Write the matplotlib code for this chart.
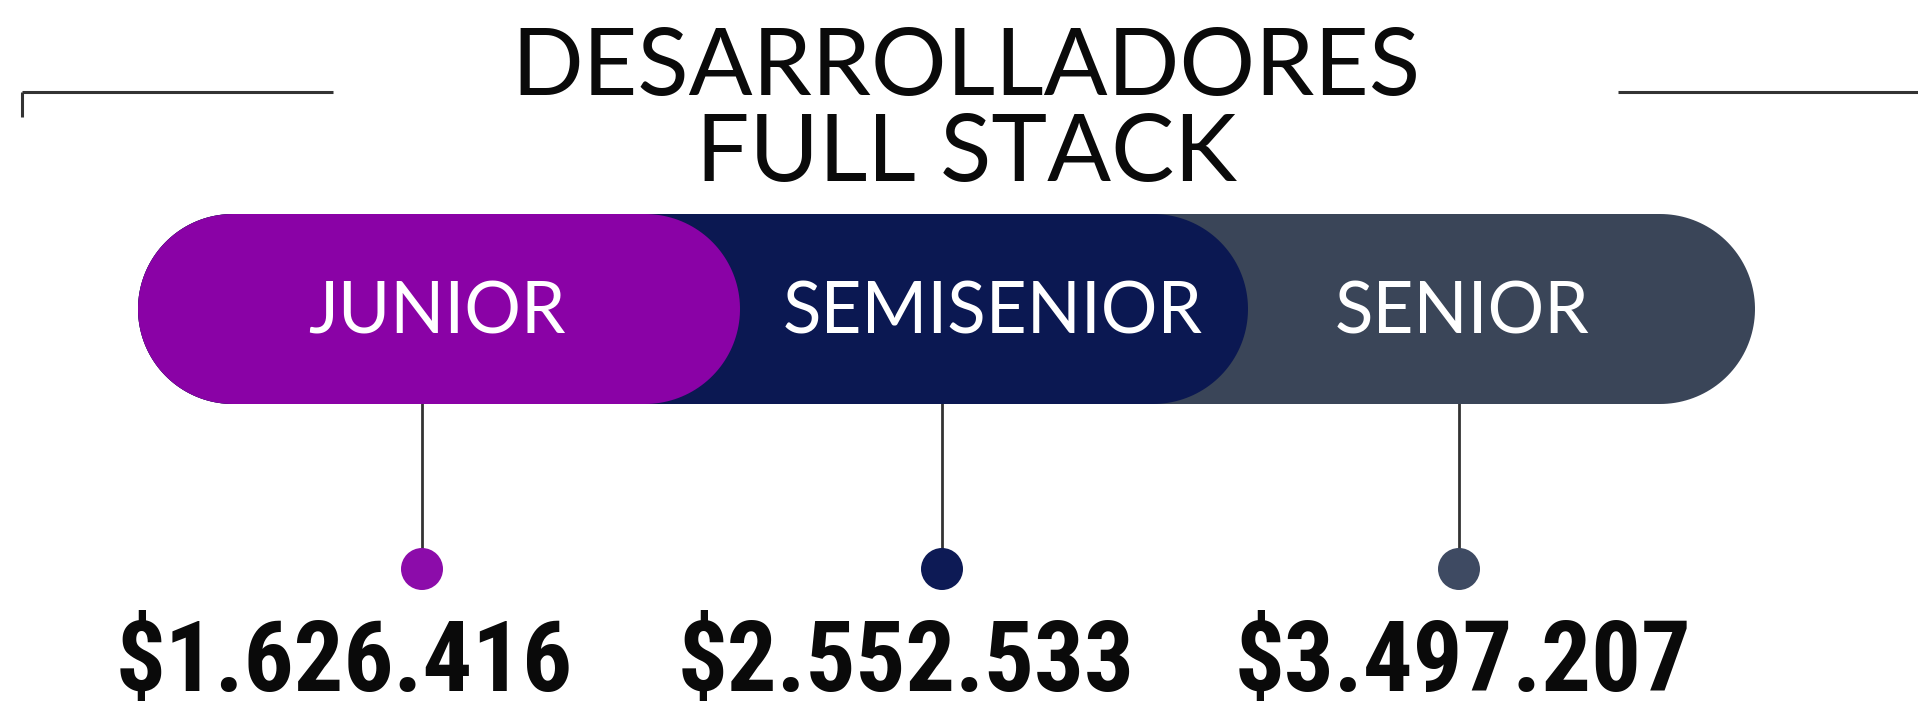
import matplotlib
matplotlib.use("Agg")
import numpy as np
import matplotlib.pyplot as plt
from matplotlib.patches import Polygon, Circle
from matplotlib import font_manager

# ---- data ----
title_lines = ["DESARROLLADORES", "FULL STACK"]
categories = ["JUNIOR", "SEMISENIOR", "SENIOR"]
salaries = [1626416, 2552533, 3497207]
colors = ["#8A02A6", "#0B1852", "#3A4558"]
dot_colors = ["#8C0CAA", "#0D1A55", "#3E4A62"]

def fmt(v):
    return "$" + f"{v:,}".replace(",", ".")

# ---- layout (pixels) ----
W, H = 1918, 710
fig = plt.figure(figsize=(W / 100, H / 100), dpi=100)
ax = fig.add_axes([0, 0, 1, 1])
ax.set_xlim(0, W)
ax.set_ylim(H, 0)
ax.axis("off")

names = {f.name for f in font_manager.fontManager.ttflist}
value_font = "Liberation Sans"
for cand in ["Liberation Sans Narrow", "Roboto Condensed", "Open Sans Condensed"]:
    if cand in names:
        value_font = cand
        break
value_size = 71 if value_font != "Liberation Sans" else 67
title_font = "Lato"

# decorative lines
ax.plot([22, 333], [92, 92], color="#333333", lw=2.2, solid_capstyle="butt")
ax.plot([22, 22], [92, 117], color="#333333", lw=2.2, solid_capstyle="butt")
ax.plot([1618, 1918], [92, 92], color="#333333", lw=2.2, solid_capstyle="butt")

# title
title_base = [95, 181]
for t, yb in zip(title_lines, title_base):
    ax.text(966, yb, t, ha="center", va="baseline", fontsize=68,
            family=title_font, color="#0A0A0A")

# pill bar
bar_left, bar_top, bar_bot = 138, 214, 404
seg_right = [740, 1248, 1755]
r = (bar_bot - bar_top) / 2
yc = (bar_top + bar_bot) / 2

def pill(x0, x1):
    a1 = np.linspace(-np.pi / 2, np.pi / 2, 80)
    a2 = np.linspace(np.pi / 2, 3 * np.pi / 2, 80)
    right = np.column_stack([x1 - r + r * np.cos(a1), yc + r * np.sin(a1)])
    left = np.column_stack([x0 + r + r * np.cos(a2), yc + r * np.sin(a2)])
    return np.vstack([right, left])

for i in reversed(range(len(categories))):
    ax.add_patch(Polygon(pill(bar_left, seg_right[i]), closed=True,
                         fc=colors[i], ec="none", zorder=2 + (len(categories) - i)))

label_x = [437, 993, 1462]
for i, c in enumerate(categories):
    ax.text(label_x[i], 333, c, ha="center", va="baseline", fontsize=51,
            family=title_font, color="white", zorder=10)

# stems + dots + values
stem_x = [422, 942, 1459]
value_x = [344, 906, 1463]
for i, v in enumerate(salaries):
    ax.plot([stem_x[i], stem_x[i]], [bar_bot, 566], color="#333333", lw=2, zorder=1)
    ax.add_patch(Circle((stem_x[i], 569), 21, fc=dot_colors[i], ec="none", zorder=3))
    ax.text(value_x[i], 691, fmt(v), ha="center", va="baseline", fontsize=value_size,
            family=value_font, fontweight="bold", color="#0A0A0A")

fig.savefig("out.png", dpi=100, facecolor="white")
